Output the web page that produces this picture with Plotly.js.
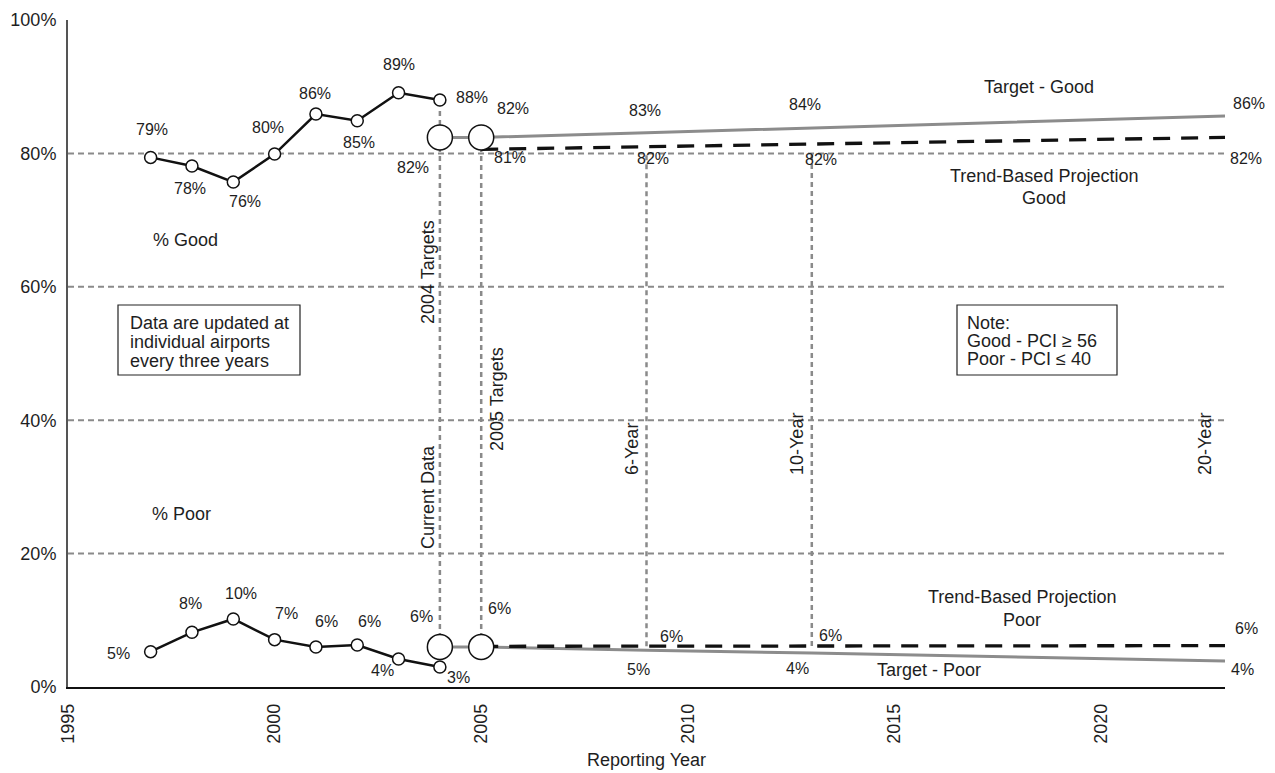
<!DOCTYPE html>
<html>
<head>
<meta charset="utf-8">
<script src="https://cdn.plot.ly/plotly-3.0.1.min.js"></script>
<style>html,body{margin:0;padding:0;background:#fff;}#chart{width:1275px;height:773px;}</style>
</head>
<body>
<div id="chart"></div>
<script>
// ---------------- data ----------------
const years = [1997, 1998, 1999, 2000, 2001, 2002, 2003, 2004];
const goodPct = [79.4, 78.1, 75.7, 79.9, 85.9, 84.9, 89.1, 88.0];
const goodLabels = ['79%', '78%', '76%', '80%', '86%', '85%', '89%', '88%'];
const poorPct = [5.3, 8.2, 10.2, 7.1, 6.0, 6.3, 4.2, 3.0];
const poorLabels = ['5%', '8%', '10%', '7%', '6%', '6%', '4%', '3%'];

const targetYears = [2004, 2005, 2009, 2013, 2023];
const targetGood = [82.4, 82.4, 83.1, 83.8, 85.6];
const targetGoodLabels = ['', '', '83%', '84%', '86%'];
const targetPoor = [6.0, 6.0, 5.5, 5.1, 3.9];
const targetPoorLabels = ['', '', '5%', '4%', '4%'];

const trendYears = [2005, 2009, 2013, 2023];
const trendGood = [80.6, 81.0, 81.4, 82.4];
const trendGoodLabels = ['81%', '82%', '82%', '82%'];
const trendPoor = [6.1, 6.1, 6.15, 6.2];
const trendPoorLabels = ['', '6%', '6%', '6%'];

const milestoneYears = [2004, 2005];
const milestoneGood = [82.4, 82.4];
const milestoneGoodLabels = ['82%', '82%'];
const milestonePoor = [6.0, 6.0];
const milestonePoorLabels = ['6%', '6%'];

const refYears = [2004, 2005, 2009, 2013];
const refTop = [87.0, 82.4, 80, 80];
const refBottom = [6.0, 6.0, 6.1, 6.15];
const gridLevels = [20, 40, 60, 80];
const xTicks = [1995, 2000, 2005, 2010, 2015, 2020];
const yTicks = [0, 20, 40, 60, 80, 100];

// ---------------- label placement (pixel offsets: dx, dy-down) ----------------
const goodOff = [[1,-28],[-2,22],[12,19],[-7,-27],[-1,-21],[2,22],[0,-28],[32,-3]];
const poorOff = [[-32,2],[-1,-29],[8,-25],[12,-26],[11,-25],[12,-23],[-16,12],[19,11]];
const targetGoodOff = [null,null,[-2,-22],[-7,-24],[24,-13]];
const targetPoorOff = [null,null,[-8,19],[-14,16],[17,9]];
const trendGoodOff = [[29,8],[6,12],[9,15],[21,21]];
const trendPoorOff = [null,[25,-10],[19,-10],[21,-17]];
const msGoodOff = [[-27,30],[32,-29]];
const msPoorOff = [[-18,-30],[18,-38]];

const FONT = 'Liberation Sans, Arial, Helvetica, sans-serif';
const TXT = '#1e1e1e';

// pixel -> axis units helpers (for free text placement only)
const PX0 = 68, PX1 = 1225, PY0 = 687, PY1 = 20;
const X = px => 1995 + (px - PX0) * (2023 - 1995) / (PX1 - PX0);
const Y = py => (PY0 - py) * 100 / (PY0 - PY1);

const annotations = [];
function addLabels(xs, ys, labels, offs) {
  xs.forEach((x, i) => {
    if (!labels[i] || !offs[i]) return;
    annotations.push({x: x, y: ys[i], xref: 'x', yref: 'y', text: labels[i], showarrow: false,
      xshift: offs[i][0], yshift: -offs[i][1], xanchor: 'center', yanchor: 'middle',
      font: {family: FONT, size: 16, color: TXT}});
  });
}
addLabels(years, goodPct, goodLabels, goodOff);
addLabels(years, poorPct, poorLabels, poorOff);
addLabels(targetYears, targetGood, targetGoodLabels, targetGoodOff);
addLabels(targetYears, targetPoor, targetPoorLabels, targetPoorOff);
addLabels(trendYears, trendGood, trendGoodLabels, trendGoodOff);
addLabels(trendYears, trendPoor, trendPoorLabels, trendPoorOff);
addLabels(milestoneYears, milestoneGood, milestoneGoodLabels, msGoodOff);
addLabels(milestoneYears, milestonePoor, milestonePoorLabels, msPoorOff);

function txt(text, px, py, opts) {
  annotations.push(Object.assign({x: X(px), y: Y(py), xref: 'x', yref: 'y', text: text, showarrow: false,
    xanchor: 'center', yanchor: 'middle', font: {family: FONT, size: 18, color: TXT}}, opts || {}));
}
txt('Target - Good', 1039, 87);
txt('Trend-Based Projection', 1044, 176);
txt('Good', 1044, 198);
txt('Trend-Based Projection', 1022, 597);
txt('Poor', 1022, 620);
txt('Target - Poor', 929, 670);
txt('% Good', 185, 240);
txt('% Poor', 181, 514);
txt('2004 Targets', 428, 272, {textangle: -90});
txt('Current Data', 428, 497, {textangle: -90});
txt('2005 Targets', 497, 399, {textangle: -90});
txt('6-Year', 632, 449, {textangle: -90});
txt('10-Year', 797, 444, {textangle: -90});
txt('20-Year', 1205, 444, {textangle: -90});
txt('Data are updated at', 128, 323, {xanchor: 'left'});
txt('individual airports', 128, 342, {xanchor: 'left'});
txt('every three years', 128, 361, {xanchor: 'left'});
txt('Note:', 965, 323, {xanchor: 'left'});
txt('Good - PCI \u2265 56', 965, 341, {xanchor: 'left'});
txt('Poor - PCI \u2264 40', 965, 359, {xanchor: 'left'});

const shapes = [];
gridLevels.forEach(v => shapes.push({type: 'line', xref: 'x', yref: 'y', x0: 1995, x1: 2023, y0: v, y1: v,
  layer: 'below', line: {color: '#8a8a8a', width: 2, dash: '6px,4px'}}));
refYears.forEach((yr, i) => shapes.push({type: 'line', xref: 'x', yref: 'y', x0: yr, x1: yr, y0: refBottom[i], y1: refTop[i],
  layer: 'below', line: {color: '#8a8a8a', width: 2.5, dash: '5px,4px'}}));
// text boxes
shapes.push({type: 'rect', xref: 'x', yref: 'y', x0: X(118), x1: X(300), y0: Y(305), y1: Y(375), layer: 'below',
  line: {color: '#222', width: 1.2}, fillcolor: '#fff'});
shapes.push({type: 'rect', xref: 'x', yref: 'y', x0: X(957), x1: X(1117), y0: Y(305), y1: Y(375), layer: 'below',
  line: {color: '#222', width: 1.2}, fillcolor: '#fff'});

const openMarker = size => ({size: size, color: '#ffffff', line: {color: '#111', width: 1.5}});
const traces = [
  {x: targetYears, y: targetGood, mode: 'lines', line: {color: '#8c8c8c', width: 3}},
  {x: targetYears, y: targetPoor, mode: 'lines', line: {color: '#8c8c8c', width: 3}},
  {x: trendYears, y: trendGood, mode: 'lines', line: {color: '#111', width: 3.3, dash: '17px,11px'}},
  {x: trendYears, y: trendPoor, mode: 'lines', line: {color: '#111', width: 3.3, dash: '17px,11px'}},
  {x: years, y: goodPct, mode: 'lines+markers', line: {color: '#111', width: 2.5}, marker: openMarker(12)},
  {x: years, y: poorPct, mode: 'lines+markers', line: {color: '#111', width: 2.5}, marker: openMarker(12)},
  {x: milestoneYears, y: milestoneGood, mode: 'markers', marker: openMarker(25)},
  {x: milestoneYears, y: milestonePoor, mode: 'markers', marker: openMarker(25)}
];

const layout = {
  width: 1275, height: 773,
  margin: {l: 68, r: 50, t: 20, b: 86},
  paper_bgcolor: '#fff', plot_bgcolor: '#fff',
  showlegend: false,
  font: {family: FONT, size: 18, color: TXT},
  xaxis: {range: [1995, 2023], tickvals: xTicks, ticktext: xTicks.map(String), tickangle: -90,
    showgrid: false, zeroline: false, showline: true, linecolor: '#111', linewidth: 1.5, ticks: '',
    ticklabelstandoff: 8, tickfont: {family: FONT, size: 18, color: TXT},
    title: {text: 'Reporting Year', font: {family: FONT, size: 18, color: TXT}, standoff: 10}},
  yaxis: {range: [0, 100], tickvals: yTicks, ticktext: yTicks.map(v => v + '%'),
    showgrid: false, zeroline: false, showline: true, linecolor: '#555', linewidth: 2, ticks: '',
    ticklabelstandoff: 6, tickfont: {family: FONT, size: 18, color: TXT}},
  shapes: shapes,
  annotations: annotations
};
Plotly.newPlot('chart', traces, layout, {displayModeBar: false, staticPlot: true});
</script>
</body>
</html>
